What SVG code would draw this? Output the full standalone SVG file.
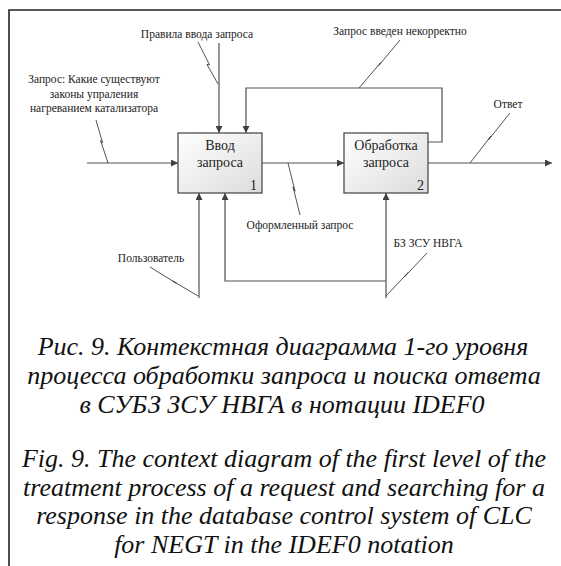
<svg xmlns="http://www.w3.org/2000/svg" width="561" height="566" viewBox="0 0 561 566">
<defs>
<linearGradient id="boxfill" x1="0" y1="0" x2="1" y2="1">
<stop offset="0" stop-color="#ffffff"/>
<stop offset="1" stop-color="#dcdcdc"/>
</linearGradient>
<marker id="arr" viewBox="0 0 10 10" refX="10" refY="5" markerWidth="9" markerHeight="7" markerUnits="userSpaceOnUse" orient="auto">
<path d="M0,0 L10,5 L0,10 Z" fill="#404040"/>
</marker>
<style>
.box{fill:url(#boxfill);stroke:#404040;stroke-width:1.2}
.con{fill:none;stroke:#505050;stroke-width:1.2}
.sq{fill:none;stroke:#404040;stroke-width:0.9}
.lbl{font-size:11.5px;fill:#222;text-anchor:middle}
.bt{font-size:14px;fill:#222;text-anchor:middle}
.num{font-size:14px;fill:#222;text-anchor:end}
.cap{font-size:26px;font-style:italic;fill:#111;text-anchor:middle}
.frame{fill:none;stroke:#222;stroke-width:1.6}
</style>
</defs>
<path class="frame" d="M9,566 V10 H561"/>
<g id="connectors">
<path class="con" d="M87,163 H178" marker-end="url(#arr)"/>
<path class="con" d="M219,43 V133" marker-end="url(#arr)"/>
<path class="con" d="M428,142 H442 V88 H246 V133" marker-end="url(#arr)"/>
<path class="con" d="M262,163 H344" marker-end="url(#arr)"/>
<path class="con" d="M428,163 H552" marker-end="url(#arr)"/>
<path class="con" d="M199,298 V193" marker-end="url(#arr)"/>
<path class="con" d="M386,281 H225 V193" marker-end="url(#arr)"/>
<path class="con" d="M386,298 V193" marker-end="url(#arr)"/>
<path class="sq" d="M198,42 L209.5,64.8 L207,64.5 L218,84"/>
<path class="sq" d="M96,120 L102.6,143 L100.6,140.5 L108,163"/>
<path class="sq" d="M400,40 L378.8,65.5 L380.8,62.5 L359,88"/>
<path class="sq" d="M510,113 L488.3,140 L491,136 L470,163"/>
<path class="sq" d="M288,163 L295,191.2 L293,186.8 L300,215"/>
<path class="sq" d="M150,267 L176.5,283.4 L172.5,280.8 L198,296"/>
<path class="sq" d="M427,253 L404.5,276.8 L408.5,272.2 L386,296"/>
</g>
<g id="labels" style="font-family:'Liberation Serif','Times New Roman',serif">
<text class="lbl" x="197" y="38">Правила ввода запроса</text>
<text class="lbl" x="400" y="35">Запрос введен некорректно</text>
<text class="lbl" x="94" y="83">Запрос: Какие существуют</text>
<text class="lbl" x="94" y="98">законы упраления</text>
<text class="lbl" x="94" y="112">нагреванием катализатора</text>
<text class="lbl" x="508" y="108">Ответ</text>
<text class="lbl" x="300" y="229">Оформленный запрос</text>
<text class="lbl" x="151" y="262">Пользователь</text>
<text class="lbl" x="428" y="247">БЗ ЗСУ НВГА</text>
</g>
<g id="node1" style="font-family:'Liberation Serif','Times New Roman',serif">
<rect class="box" x="178" y="133" width="84" height="60"/>
<text class="bt" x="220" y="150">Ввод</text>
<text class="bt" x="220" y="167">запроса</text>
<text class="num" x="257" y="190">1</text>
</g>
<g id="node2" style="font-family:'Liberation Serif','Times New Roman',serif">
<rect class="box" x="344" y="133" width="84" height="60"/>
<text class="bt" x="386" y="150">Обработка</text>
<text class="bt" x="386" y="167">запроса</text>
<text class="num" x="424" y="190">2</text>
</g>
<g id="caption" style="font-family:'Liberation Serif','Times New Roman',serif">
<text class="cap" x="283" y="355">Рис. 9. Контекстная диаграмма 1-го уровня</text>
<text class="cap" x="284" y="384">процесса обработки запроса и поиска ответа</text>
<text class="cap" x="282" y="413">в СУБЗ ЗСУ НВГА в нотации IDEF0</text>
<text class="cap" x="284" y="467">Fig. 9. The context diagram of the first level of the</text>
<text class="cap" x="284" y="496">treatment process of a request and searching for a</text>
<text class="cap" x="284" y="524">response in the database control system of CLC</text>
<text class="cap" x="284" y="553">for NEGT in the IDEF0 notation</text>
</g>
</svg>
